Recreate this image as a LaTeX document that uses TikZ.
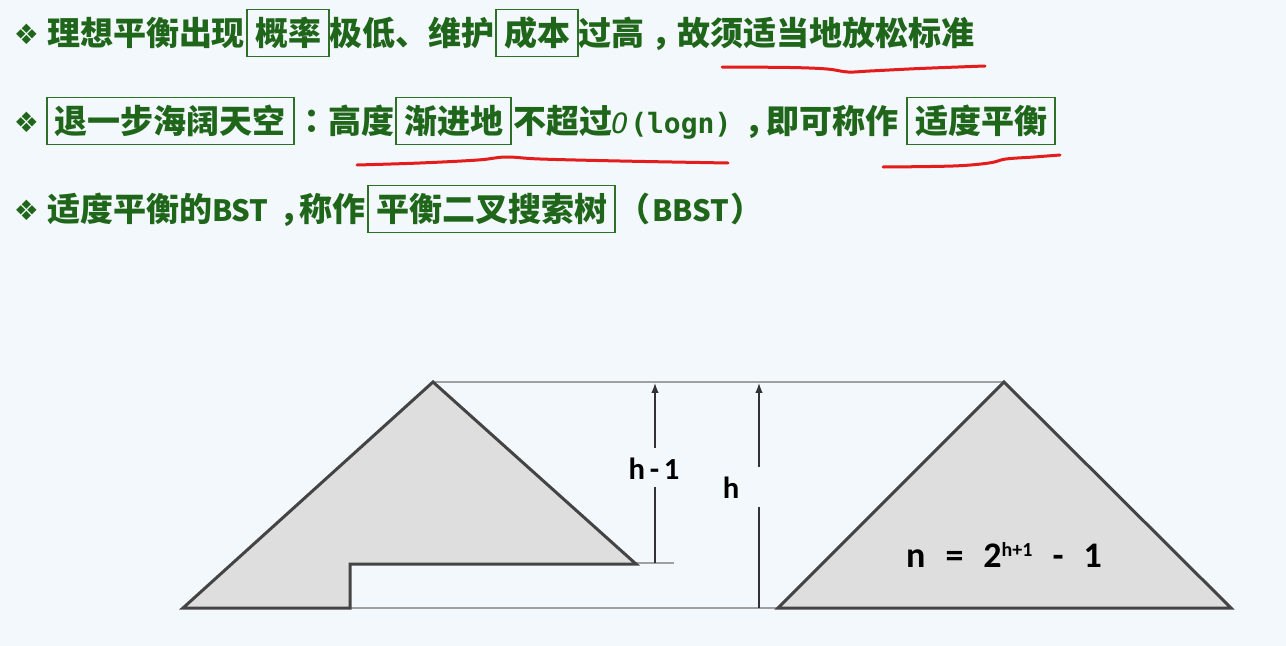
\documentclass[tikz,border=0pt]{standalone}
\usepackage{fontspec}
\usetikzlibrary{arrows.meta}
\newfontfamily\cjk{Noto Sans CJK SC}
\newfontfamily\cjktc{Noto Sans CJK TC}
\newfontfamily\symf{DejaVu Sans}
\newfontfamily\monof{DejaVu Sans Mono}
\newfontfamily\calf{Carlito}
\definecolor{bgc}{RGB}{243,248,252}
\definecolor{tgreen}{RGB}{31,102,27}
\definecolor{bgreen}{RGB}{46,112,40}
\definecolor{trifill}{RGB}{222,222,222}
\definecolor{tristroke}{RGB}{68,68,68}
\definecolor{guide}{RGB}{160,160,160}
\definecolor{ulred}{RGB}{228,28,28}
\definecolor{arrowc}{RGB}{51,51,51}
\newcommand{\latn}[1]{{\fontsize{22pt}{30pt}\selectfont #1}}
\begin{document}
\begin{tikzpicture}[x=0.75pt,y=-0.75pt,
  cjkt/.style={font=\cjk\bfseries\fontsize{24.75pt}{30pt}\selectfont, text=tgreen, inner sep=0pt, outer sep=0pt, anchor=base west},
  kbox/.style={cjkt, draw=bgreen, line width=1.1pt, inner xsep=6pt, inner ysep=0pt, text height=27pt, text depth=8.25pt},
  bulletn/.style={font=\symf\fontsize{21pt}{21pt}\selectfont, text=tgreen, inner sep=0pt},
  monob/.style={font=\monof\bfseries\fontsize{21pt}{25pt}\selectfont, text=tgreen, inner sep=0pt, anchor=base west},
  monoi/.style={font=\monof\itshape\fontsize{21pt}{25pt}\selectfont, text=tgreen, inner sep=0pt, anchor=base west},
  dlab/.style={font=\calf\bfseries\fontsize{23pt}{28pt}\selectfont, text=black, inner sep=0pt},
  flab/.style={font=\calf\bfseries\fontsize{27pt}{32pt}\selectfont, text=black, inner sep=0pt},
  ul/.style={draw=ulred, line width=2.25pt, line cap=round, line join=round},
  guideln/.style={draw=guide, line width=1.1pt},
  tri/.style={draw=tristroke, fill=trifill, line width=2.25pt, line join=miter},
  arr/.style={draw=arrowc, line width=1.1pt},
  arrtip/.style={arr, -{Latex[length=7.5pt,width=5.5pt]}}
]
\fill[bgc] (0,0) rectangle (1286,646);
\useasboundingbox (0,0) rectangle (1286,646);

% ---- line 1
\node[bulletn] (bu1) at (26.5,34) {❖};
\node[cjkt] (t11) at (47,45.5) {理想平衡出现};
\node[kbox] (b11) at (247,45.5) {概率};
\node[cjkt] (t12) at (329,45.5) {极低、维护};
\node[kbox] (b12) at (496,45.5) {成本};
\node[cjkt] (t13) at (578,45.5) {过高};
\node[cjkt] (cm1) at (651,45.5) {，};
\node[cjkt] (t14) at (677,45.5) {故须适当地放松标准};

% ---- line 2
\node[bulletn] (bu2) at (26.5,122.5) {❖};
\node[kbox] (b21) at (47,133.5) {退一步海阔天空};
\node[cjkt] (t21) at (295,133.5) {{\cjktc ：}高度};
\node[kbox] (b22) at (396,133.5) {渐进地};
\node[cjkt] (t22) at (513,133.5) {不超过};
\node[monoi] (o2) at (611,133.5) {O};
\node[monob] (lg2) at (630,133.5) {(logn)};
\node[cjkt] (cm2) at (744,133.5) {，};
\node[cjkt] (t23) at (766,133.5) {即可称作};
\node[kbox] (b23) at (907,133.5) {适度平衡};

% ---- line 3
\node[bulletn] (bu3) at (26.5,210.5) {❖};
\node[cjkt] (t31) at (47,221.5) {适度平衡的\latn{BST}};
\node[cjkt] (cm3) at (279,221.5) {，};
\node[cjkt] (t32) at (299,221.5) {称作};
\node[kbox] (b31) at (368,221.5) {平衡二叉搜索树};
\node[cjkt] (t33) at (617,221.5) {（};
\node[cjkt] (t34) at (652,221.5) {\latn{BBST}};
\node[cjkt] (t35) at (730,221.5) {）};

% ---- red underlines
\draw[ul] plot[smooth, tension=0.6] coordinates {(722,67) (790,67.5) (827,69) (848,72) (870,71) (920,68.5) (985,66)};
\draw[ul] plot[smooth, tension=0.6] coordinates {(357,165) (420,163) (478,160) (506,157) (540,159) (620,161) (728,163)};
\draw[ul] plot[smooth, tension=0.6] coordinates {(883,167) (953,166) (989,163) (1006,159) (1034,157) (1060,155)};

% ---- guide lines
\coordinate (apexL) at (433,382);
\coordinate (apexR) at (1004,382);
\coordinate (stepR) at (636,563);
\coordinate (stepG) at (674,563);
\coordinate (stepB) at (350,608);
\coordinate (rightL) at (778,608);
\draw[guideln] (apexL) -- (apexR);
\draw[guideln] (stepR) -- (stepG);
\draw[guideln] (stepB) -- (rightL);

% ---- shapes
\draw[tri] (183,608) -- (apexL) -- (636,564) -- (350,564) -- (350,608) -- cycle;
\draw[tri] (rightL) -- (apexR) -- (1231,608) -- cycle;

% ---- dimension arrows
\coordinate (h1b) at (655,563);
\coordinate (h1g1) at (655,487);
\coordinate (h1g2) at (655,448);
\coordinate (h1t) at (655,382.8);
\node[dlab] (lh1) at (654,469) {h\hspace{3.5pt}-\hspace{3.5pt}1};
\draw[arr] (h1b) -- (h1g1);
\draw[arrtip] (h1g2) -- (h1t);

\coordinate (hb) at (759,608);
\coordinate (hg1) at (759,507);
\coordinate (hg2) at (759,467);
\coordinate (ht) at (759,382.8);
\node[dlab] (lh) at (731,488) {h};
\draw[arr] (hb) -- (hg1);
\draw[arrtip] (hg2) -- (ht);

% ---- formula
\node[flab] (form) at (1004,555) {n\hspace{15pt}=\hspace{15pt}2\raisebox{8.5pt}{\fontsize{15pt}{15pt}\selectfont h+1}\hspace{15pt}-\hspace{15pt}1};
\end{tikzpicture}
\end{document}
